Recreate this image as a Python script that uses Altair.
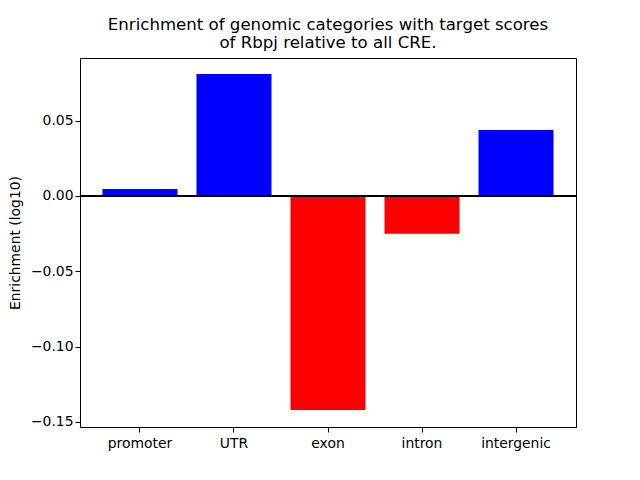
import altair as alt
import pandas as pd

categories = ["promoter", "UTR", "exon", "intron", "intergenic"]
values = [0.0046, 0.0810, -0.1421, -0.0251, 0.0438]
colors = ["blue" if v >= 0 else "red" for v in values]

df = pd.DataFrame({"category": categories, "value": values, "color": colors})

FONT = "DejaVu Sans"

base = alt.Chart(df)

bars = base.mark_bar(size=75).encode(
    x=alt.X("category:N", sort=categories, title=None,
            scale=alt.Scale(paddingInner=0.2, paddingOuter=0.238),
            axis=alt.Axis(labelAngle=0, labelFontSize=13.9, labelFont=FONT,
                          labelColor="black", tickColor="black", tickSize=5,
                          domainColor="black", labelPadding=4, grid=False)),
    y=alt.Y("value:Q", title="Enrichment (log10)",
            scale=alt.Scale(domain=[-0.1534, 0.0916], nice=False, zero=False),
            axis=alt.Axis(values=[-0.15, -0.10, -0.05, 0.0, 0.05], format=".2f",
                          labelFontSize=13.9, labelFont=FONT, labelColor="black",
                          tickColor="black", tickSize=5, domainColor="black",
                          titleFont=FONT, titleFontSize=13.9, titleFontWeight="normal",
                          titleColor="black", titlePadding=8, grid=False)),
    color=alt.Color("color:N", scale=None),
)

zero = base.mark_rule(color="black", strokeWidth=2).encode(y=alt.datum(0))

chart = alt.layer(bars, zero).properties(
    width=496,
    height=369,
    title=alt.TitleParams(
        ["Enrichment of genomic categories with target scores", "of Rbpj relative to all CRE."],
        font=FONT, fontSize=16.6, fontWeight="normal", color="black",
        anchor="middle", offset=6, lineHeight=18,
    ),
    autosize=alt.AutoSizeParams(type="none"),
    padding={"left": 72, "top": 50, "right": 56, "bottom": 45},
    background="white",
).configure_view(stroke="black", strokeWidth=1)

chart.save("out.html", embed_options={"renderer": "svg", "actions": False})
